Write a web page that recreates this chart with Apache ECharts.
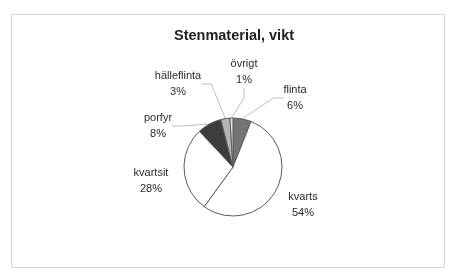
<!DOCTYPE html>
<html>
<head>
<meta charset="utf-8">
<script src="https://cdn.jsdelivr.net/npm/echarts@6/dist/echarts.min.js"></script>
<style>
  html, body { margin: 0; padding: 0; background: #fff; }
  #chart { width: 453px; height: 279px; }
</style>
</head>
<body>
<div id="chart"></div>
<script>
// data, clockwise from 12 o'clock
const names = ['flinta', 'kvarts', 'kvartsit', 'porfyr', 'hälleflinta', 'övrigt'];
const shares = [6, 54, 28, 8, 3, 1];
const fills = ['#747474', '#ffffff', '#ffffff', '#3c3c3c', '#b4b4b4', '#e8e8e8'];
const showLines = [true, false, false, true, true, true];
// label offsets from pie centre (text centre)
const labelOffsets = [[62, -69], [70, 38], [-82, 14], [-75, -41], [-55, -83], [11, -95]];

const cx = 233, cy = 167;

let chart = echarts.init(document.getElementById('chart'), null, { renderer: 'canvas' });

let option = {
  backgroundColor: '#fff',
  animation: false,
  title: {
    text: 'Stenmaterial, vikt',
    left: 229,
    top: 23,
    textAlign: 'center',
    textStyle: {
      fontFamily: 'Liberation Sans',
      fontSize: 14.5,
      fontWeight: 'bold',
      color: '#222',
    },
  },
  graphic: [
    {
      type: 'rect',
      shape: { x: 11.5, y: 14.5, width: 433, height: 253 },
      style: { fill: 'none', stroke: '#d4d4d4', lineWidth: 1 },
      silent: true,
    },
  ],
  series: [
    {
      type: 'pie',
      center: [cx, cy],
      radius: 49,
      startAngle: 90,
      clockwise: true,
      silent: true,
      data: names.map((n, i) => ({
        name: n,
        value: shares[i],
        itemStyle: { color: fills[i] },
        labelLine: { show: showLines[i] },
      })),
      itemStyle: {
        borderColor: '#5a5a5a',
        borderWidth: 1,
      },
      label: {
        show: true,
        formatter: '{b}\n{c}%',
        fontFamily: 'Liberation Sans',
        fontSize: 11,
        lineHeight: 16,
        color: '#2a2a2a',
        align: 'center',
      },
      labelLine: {
        show: true,
        length: 10,
        length2: 10,
        lineStyle: { color: '#bdbdbd', width: 1 },
      },
      labelLayout: function (params) {
        const off = labelOffsets[params.dataIndex];
        return {
          x: cx + off[0],
          y: cy + off[1],
          align: 'center',
          verticalAlign: 'middle',
        };
      },
    },
  ],
};
chart.setOption(option);
</script>
</body>
</html>
